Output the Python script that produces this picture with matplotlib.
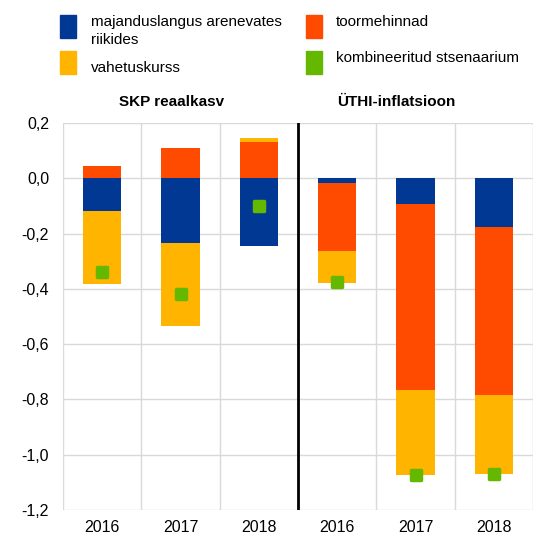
import matplotlib.pyplot as plt
from matplotlib.patches import Rectangle
from matplotlib.markers import MarkerStyle
from matplotlib.transforms import blended_transform_factory
import numpy as np

plt.rcParams['font.family'] = ['Liberation Sans', 'DejaVu Sans']

years = ['2016', '2017', '2018', '2016', '2017', '2018']
groups = ['SKP reaalkasv', 'ÜTHI-inflatsioon']

# contributions (stacked in this order)
majandus = [-0.119, -0.233, -0.246, -0.016, -0.093, -0.177]
toorme = [0.045, 0.110, 0.130, -0.248, -0.673, -0.607]
vahetus = [-0.265, -0.300, 0.015, -0.114, -0.309, -0.286]
kombineeritud = [-0.34, -0.42, -0.10, -0.377, -1.075, -1.07]

labels = ['majanduslangus arenevates\nriikides', 'vahetuskurss', 'toormehinnad', 'kombineeritud stsenaarium']
c_blue = '#003894'
c_orange = '#FF4B00'
c_yellow = '#FFB400'
c_green = '#65B800'

fig = plt.figure(figsize=(5.46, 5.36), dpi=100)
ax = fig.add_axes([63 / 546, 1 - 510 / 536, 470 / 546, 387 / 536])

x = np.arange(len(years))
pos_base = np.zeros(len(years))
neg_base = np.zeros(len(years))
for vals, col in [(majandus, c_blue), (toorme, c_orange), (vahetus, c_yellow)]:
    v = np.array(vals)
    bottom = np.where(v >= 0, pos_base, neg_base)
    ax.bar(x, v, 0.49, bottom=bottom, color=col, zorder=2)
    pos_base = pos_base + np.where(v >= 0, v, 0)
    neg_base = neg_base + np.where(v < 0, v, 0)

# rounded square markers
ax.plot(x, kombineeritud, linestyle='none', marker=MarkerStyle('s', joinstyle='round'),
        color=c_green, markersize=7, markeredgewidth=2.5, zorder=3)

yt = np.round(np.arange(-1.2, 0.21, 0.2), 1) + 0.0
ax.set_xlim(-0.5, 5.5)
ax.set_ylim(-1.2, 0.2)
ax.set_yticks(yt)
ax.set_yticklabels([f'{abs(t):.1f}'.replace('.', ',') if abs(t) < 1e-9 else f'{t:.1f}'.replace('.', ',') for t in yt])
ax.set_xticks(x)
ax.set_xticklabels(years)
ax.set_xticks(np.arange(-0.5, 5.6, 1), minor=True)
ax.grid(axis='y', color='#d9d9d9', linewidth=1, zorder=0)
ax.grid(axis='x', which='minor', color='#d9d9d9', linewidth=1, zorder=0)
ax.grid(axis='x', which='major', visible=False)
ax.tick_params(which='both', length=0, labelsize=11.5, colors='black')
ax.tick_params(axis='y', pad=10)
ax.tick_params(axis='x', pad=7)
for s in ax.spines.values():
    s.set_visible(False)
ax.axvline(2.5, color='black', linewidth=2, zorder=4)

tr = blended_transform_factory(ax.transData, ax.transAxes)
ax.text(0.89, 1.055, groups[0], transform=tr, ha='center', va='center', fontsize=11, fontweight='bold')
ax.text(3.76, 1.055, groups[1], transform=tr, ha='center', va='center', fontsize=11, fontweight='bold')

# legend drawn by hand
W, H = 546, 536
leg = [
    (60, 15, c_blue, 91, 15, labels[0]),
    (60, 51, c_yellow, 91, 61, labels[1]),
    (306, 15, c_orange, 336, 15, labels[2]),
    (306, 51, c_green, 336, 51, labels[3]),
]
for px, py, col, tx, ty, lab in leg:
    fig.add_artist(Rectangle((px / W, 1 - (py + 23) / H), 16 / W, 23 / H,
                             transform=fig.transFigure, color=col))
    fig.text(tx / W, 1 - ty / H, lab, ha='left', va='top', fontsize=11, linespacing=1.35)

fig.savefig('out.png', dpi=100)
